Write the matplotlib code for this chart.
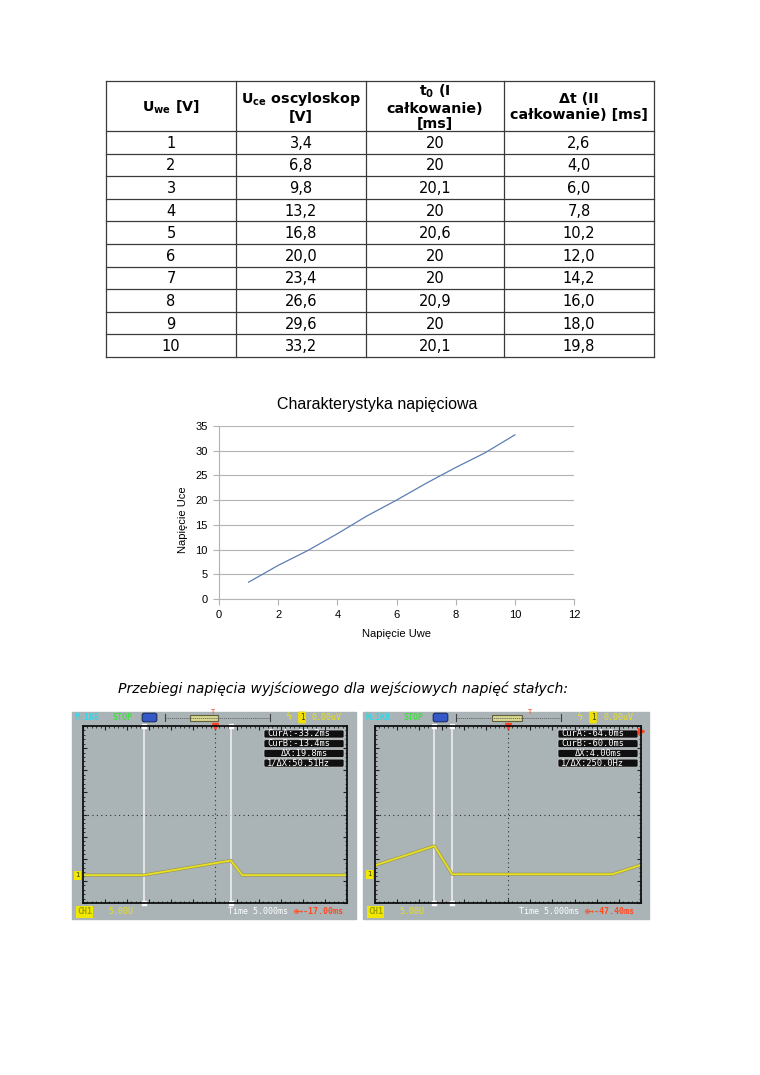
import matplotlib
matplotlib.use("Agg")
import matplotlib.pyplot as plt
import matplotlib.patheffects as pe
from matplotlib.patches import Rectangle, FancyBboxPatch
import numpy as np

W, H = 760, 1075

# --- table data ---
uwe = [1, 2, 3, 4, 5, 6, 7, 8, 9, 10]
uce = [3.4, 6.8, 9.8, 13.2, 16.8, 20.0, 23.4, 26.6, 29.6, 33.2]
t0 = [20, 20, 20.1, 20, 20.6, 20, 20, 20.9, 20, 20.1]
dt = [2.6, 4.0, 6.0, 7.8, 10.2, 12.0, 14.2, 16.0, 18.0, 19.8]
headers = [r"$\mathbf{U_{we}}$ [V]",
           r"$\mathbf{U_{ce}}$ oscyloskop" + "\n[V]",
           r"$\mathbf{t_0}$ (I" + "\ncałkowanie)\n[ms]",
           "Δt (II\ncałkowanie) [ms]"]

# --- scope traces (time in ms as shown by scope, volts above ground) ---
left_t = [-47.0, -33.2, -13.4, -10.8, 13.0]
left_v = [0.0, 0.0, 3.3, 0.0, 0.0]
right_t = [-77.4, -64.0, -60.0, -23.9, -17.4]
right_v = [2.0, 6.4, 0.0, 0.0, 2.1]
left_cursors = [-33.2, -13.4]
right_cursors = [-64.0, -60.0]
trig_offsets = [-17.0, -47.4]


def fmt1(v):
    return f"{v:.1f}".replace(".", ",")


def fmtg(v):
    return f"{v:g}".replace(".", ",")


fig = plt.figure(figsize=(W / 100, H / 100), dpi=100)
fig.patch.set_facecolor("white")
page = fig.add_axes([0, 0, 1, 1])
page.set_xlim(0, W)
page.set_ylim(H, 0)
page.axis("off")

# table
col_x = [106, 236, 366, 504, 654]
head_top, head_bot, tab_bot = 81, 131, 357
row_h = (tab_bot - head_bot) / len(uwe)
row_y = [head_bot + i * row_h for i in range(len(uwe) + 1)]
lc = "#3a3a3a"
for x in col_x:
    page.plot([x, x], [head_top, tab_bot], color=lc, lw=0.9)
for y in [head_top] + row_y:
    page.plot([col_x[0], col_x[-1]], [y, y], color=lc, lw=0.9)

for i, h in enumerate(headers):
    cx = (col_x[i] + col_x[i + 1]) / 2
    page.text(cx, (head_top + head_bot) / 2 + 1, h, ha="center", va="center",
              fontsize=10.3, fontweight="bold", linespacing=1.15,
              family="DejaVu Sans")

cols = [[str(v) for v in uwe], [fmt1(v) for v in uce],
        [fmtg(v) for v in t0], [fmt1(v) for v in dt]]
for j, col in enumerate(cols):
    cx = (col_x[j] + col_x[j + 1]) / 2
    for i, s in enumerate(col):
        page.text(cx, row_y[i] + row_h / 2 + 1, s, ha="center", va="center",
                  fontsize=10.5, family="DejaVu Sans")

# chart
cfont = "Liberation Sans"
cax = fig.add_axes([219 / W, 1 - 599 / H, 355 / W, 173 / H])
cax.plot(uwe, uce, color="#5b7db5", lw=0.9)
cax.set_xlim(0, 12)
cax.set_ylim(0, 35)
cax.set_xticks(range(0, 13, 2))
cax.set_yticks(range(0, 36, 5))
cax.grid(axis="y", color="#b3b3b3", lw=0.8)
cax.set_axisbelow(True)
for s in ["top", "right"]:
    cax.spines[s].set_visible(False)
for s in ["left", "bottom"]:
    cax.spines[s].set_color("#b3b3b3")
cax.tick_params(length=4, color="#b3b3b3", labelsize=8, pad=4)
for lab in cax.get_xticklabels() + cax.get_yticklabels():
    lab.set_family(cfont)
fig.text(377 / W, 1 - 405 / H, "Charakterystyka napięciowa", ha="center",
         va="center", fontsize=11.5, family=cfont)
fig.text(397 / W, 1 - 634 / H, "Napięcie Uwe", ha="center", va="center",
         fontsize=8, family=cfont)
fig.text(183 / W, 1 - 520 / H, "Napięcie Uce", ha="center", va="center",
         fontsize=8, family=cfont, rotation=90)

page.text(118, 689, "Przebiegi napięcia wyjściowego dla wejściowych napięć stałych:",
          ha="left", va="center", fontsize=10.1, style="italic",
          family="DejaVu Sans")

# oscilloscope screenshots
bg = "#aab4b7"
yel = "#e8e020"
mono = "DejaVu Sans Mono"
scopes = [
    dict(x0=72, w=284, sl=83, sr=347, t=left_t, v=left_v, cur=left_cursors,
         off=trig_offsets[0], ground=-13.7, hl=(118, 146), tmark=141),
    dict(x0=363, w=286, sl=375, sr=641, t=right_t, v=right_v, cur=right_cursors,
         off=trig_offsets[1], ground=-13.5, hl=(129, 159), tmark=167),
]
st, sb = 726, 903
for sc in scopes:
    x0 = sc["x0"]
    page.add_patch(Rectangle((x0, 712), sc["w"], 207, color=bg, zorder=0))
    # top bar
    page.text(x0 + 3, 717.5, "M:1K8", color="#30d8e8", fontsize=6, family=mono,
              va="center", fontweight="bold")
    page.text(x0 + 40, 717.5, "STOP", color="#40e040", fontsize=6, family=mono,
              va="center", fontweight="bold")
    page.add_patch(FancyBboxPatch((x0 + 71, 714), 13, 7,
                                  boxstyle="round,pad=0.8,rounding_size=2",
                                  fc="#3558c8", ec="#1a2a60", lw=0.8))
    page.plot([x0 + 93, x0 + 198], [717.5, 717.5], color="#606060", lw=0.6,
              ls=(0, (1.5, 1)))
    page.plot([x0 + 93, x0 + 93], [714, 721], color="#404040", lw=0.8)
    page.plot([x0 + 198, x0 + 198], [714, 721], color="#404040", lw=0.8)
    page.add_patch(Rectangle((x0 + sc["hl"][0], 714.5), sc["hl"][1] - sc["hl"][0], 6,
                             fc="#d8d890", ec="#606040", lw=0.8))
    page.text(x0 + sc["tmark"], 712, "T", color="#ff4020", fontsize=5,
              family=mono, ha="center", va="center")
    page.text(x0 + 216, 717.5, "ϟ", color=yel, fontsize=7, ha="center", va="center")
    page.text(x0 + 230, 717.5, "1", color="#404000", fontsize=5.5, family=mono,
              ha="center", va="center",
              bbox=dict(boxstyle="round,pad=0.2", fc="#f0e000", ec="none"))
    page.text(x0 + 240, 717.5, "0.00uV", color=yel, fontsize=6, family=mono,
              va="center")
    # bottom bar
    page.text(x0 + 5, 912, "CH1", color="#a0a000", fontsize=6, family=mono,
              va="center", fontweight="bold",
              bbox=dict(boxstyle="square,pad=0.15", fc="#f0e800", ec="none"))
    page.text(x0 + 36, 912, "5.00U", color=yel, fontsize=6, family=mono,
              va="center")
    page.text(x0 + 156, 912, "Time 5.000ms", color="white", fontsize=6,
              family=mono, va="center")
    page.text(x0 + 222, 912, f"⊕→{sc['off']:.2f}ms", color="#ff4a20", fontsize=6,
              family=mono, va="center", fontweight="bold")
    # cursor readouts
    a, b = sc["cur"]
    dx = b - a
    lines = [f"CurA:{a:.1f}ms", f"CurB:{b:.1f}ms",
             f"ΔX:{dx:#.3g}ms", f"1/ΔX:{1000 / dx:#.4g}Hz"]
    bx = sc["sr"] - 83
    for k, s in enumerate(lines):
        yc = 734 + k * 9.7
        page.add_patch(FancyBboxPatch((bx, yc - 4), 80, 8,
                                      boxstyle="round,pad=0,rounding_size=1.5",
                                      fc="#101010", ec="#d0d0d0", lw=0.5))
        if k == 2:
            page.text(bx + 40, yc, s, color="white", fontsize=6.3, family=mono,
                      ha="center", va="center")
        else:
            page.text(bx + 3, yc, s, color="white", fontsize=6.3, family=mono,
                      ha="left", va="center")

    # screen
    sax = fig.add_axes([sc["sl"] / W, 1 - sb / H, (sc["sr"] - sc["sl"]) / W,
                        (sb - st) / H])
    sax.set_facecolor("none")
    off = sc["off"]
    sax.set_xlim(off - 30, off + 30)
    sax.set_ylim(-20, 20)
    sax.set_xticks(off + np.arange(-30, 31, 5))
    sax.set_xticks(off + np.arange(-30, 31, 1), minor=True)
    sax.set_yticks(np.arange(-20, 21, 5))
    sax.set_yticks(np.arange(-20, 21, 1), minor=True)
    sax.tick_params(which="both", direction="in", top=True, right=True,
                    labelbottom=False, labelleft=False, color="#202020")
    sax.tick_params(which="major", length=3, width=0.8)
    sax.tick_params(which="minor", length=1.3, width=0.6)
    for s in sax.spines.values():
        s.set_linewidth(1.3)
        s.set_color("#101010")
    sax.axhline(0, color="#303030", lw=0.8, ls=(0, (1, 3)))
    sax.axvline(off, color="#303030", lw=0.8, ls=(0, (1, 3)))
    for c in sc["cur"]:
        sax.axvline(c, color="#f2f2f2", lw=1.1)
        sax.plot([c, c], [20, -20], ls="none", marker="s", ms=2.5, color="white",
                 clip_on=False)
    sax.plot([off], [20], marker="v", ms=5, color="#ff4020", clip_on=False)
    vv = [v + sc["ground"] for v in sc["v"]]
    sax.plot(sc["t"], vv, color=yel, lw=1.3,
             path_effects=[pe.Stroke(linewidth=2.3, foreground="#9a9a58"), pe.Normal()])
    sax.annotate("1", xy=(-0.02, sc["ground"]), xycoords=("axes fraction", "data"),
                 ha="center", va="center", fontsize=5, color="#404000",
                 annotation_clip=False,
                 bbox=dict(boxstyle="square,pad=0.2", fc="#f0e800", ec="none"))
    if sc is scopes[1]:
        sax.plot([1.0], [0.97], marker=">", ms=4, color="#ff4020", clip_on=False,
                 transform=sax.transAxes)

fig.savefig("out.png", dpi=100)
